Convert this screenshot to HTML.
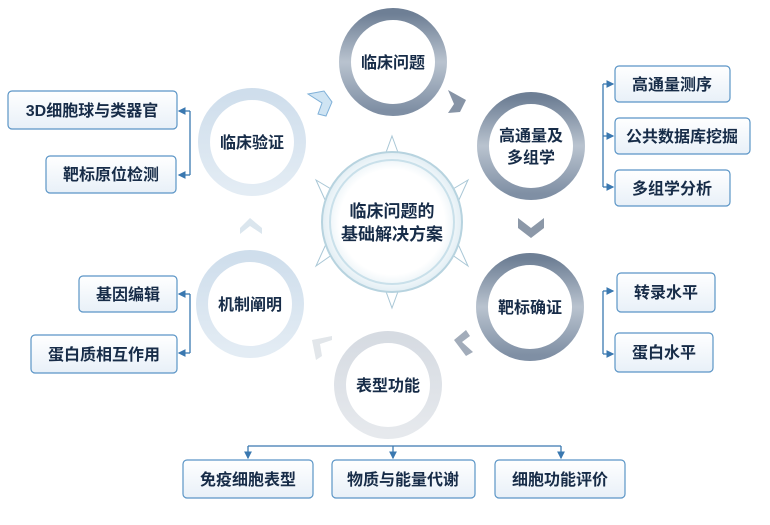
<!DOCTYPE html>
<html><head><meta charset="utf-8"><style>
html,body{margin:0;padding:0;background:#fff;}
svg text{font-family:"Liberation Sans","Noto Sans CJK SC",sans-serif;font-weight:bold;fill:#172c48;}
</style></head><body>
<svg width="770" height="520" viewBox="0 0 770 520" xmlns="http://www.w3.org/2000/svg">
<defs>
<linearGradient id="dk" x1="0" y1="0" x2="0" y2="1">
<stop offset="0" stop-color="#6e7f95"/><stop offset="0.5" stop-color="#b9c3cf"/><stop offset="1" stop-color="#7f8fa4"/></linearGradient>
<linearGradient id="lt" x1="0" y1="0" x2="0" y2="1">
<stop offset="0" stop-color="#cfdeec"/><stop offset="1" stop-color="#e3ecf4"/></linearGradient>
<linearGradient id="lg" x1="0" y1="0" x2="0" y2="1">
<stop offset="0" stop-color="#d6dbe2"/><stop offset="1" stop-color="#e6e9ed"/></linearGradient>
<linearGradient id="bx" x1="0" y1="0" x2="0" y2="1">
<stop offset="0" stop-color="#ffffff"/><stop offset="1" stop-color="#e8f0f8"/></linearGradient>
<radialGradient id="cg" cx="0.5" cy="0.5" r="0.5">
<stop offset="0.75" stop-color="#ffffff"/><stop offset="1" stop-color="#e2eef4"/></radialGradient>
<marker id="ar" markerWidth="6" markerHeight="6" refX="5" refY="3" orient="auto"><path d="M0,0L6,3L0,6z" fill="#3a78b0"/></marker>
</defs>

<g fill="#fff" stroke="#a9c7d6" stroke-width="1">
<polygon points="392,136 400,158 384,158"/>
<polygon points="392,308 400,286 384,286"/>
<polygon points="316,180 336,192 326,202"/>
<polygon points="468,180 448,192 458,202"/>
<polygon points="316,266 336,252 326,244"/>
<polygon points="468,266 448,252 458,244"/>
</g>
<circle cx="392" cy="222" r="70" fill="url(#cg)" stroke="#b7d3df" stroke-width="2"/>
<circle cx="392" cy="222" r="62" fill="none" stroke="#c9e0ea" stroke-width="2"/>
<text x="392" y="217" font-size="17" text-anchor="middle">临床问题的</text>
<text x="392" y="240" font-size="17" text-anchor="middle">基础解决方案</text>

<circle cx="393" cy="62" r="48" fill="#fff" stroke="url(#dk)" stroke-width="12"/>
<text x="393" y="68" font-size="16" text-anchor="middle">临床问题</text>
<circle cx="531" cy="146" r="48" fill="#fff" stroke="url(#dk)" stroke-width="12"/>
<text x="531" y="141" font-size="16" text-anchor="middle">高通量及</text>
<text x="531" y="163" font-size="16" text-anchor="middle">多组学</text>
<circle cx="530" cy="307" r="48" fill="#fff" stroke="url(#dk)" stroke-width="12"/>
<text x="530" y="313" font-size="16" text-anchor="middle">靶标确证</text>
<circle cx="388" cy="385" r="48" fill="#fff" stroke="url(#lg)" stroke-width="12"/>
<text x="388" y="391" font-size="16" text-anchor="middle">表型功能</text>
<circle cx="250" cy="304" r="48" fill="#fff" stroke="url(#lt)" stroke-width="12"/>
<text x="250" y="310" font-size="16" text-anchor="middle">机制阐明</text>
<circle cx="252" cy="142" r="48" fill="#fff" stroke="url(#lt)" stroke-width="12"/>
<text x="252" y="148" font-size="16" text-anchor="middle">临床验证</text>

<polygon points="308,94 324,91 332,102 326,116 318,114 322,103" fill="#cfe4f3" stroke="#7fb0d8" stroke-width="1"/>
<polygon points="448,90 466,100 460,112 448,113 454,104" fill="#8794a6"/>
<polygon points="518,218 531,228 544,218 544,228 531,238 518,228" fill="#8c98a8"/>
<polygon points="466,330 454,340 466,356 473,352 462,342 470,336" fill="#a2acba"/>
<polygon points="332,336 312,340 316,360 322,356 320,344 332,340" fill="#e2e6ea"/>
<polygon points="240,228 250,218 262,228 262,234 250,226 240,234" fill="#dbe6ee"/>

<g fill="none" stroke="#3a78b0" stroke-width="1.3">
<path d="M190,111 L190,175" /><path d="M190,111 L179,111" marker-end="url(#ar)"/><path d="M190,175 L179,175" marker-end="url(#ar)"/>
<path d="M190,294 L190,353"/><path d="M190,294 L179,294" marker-end="url(#ar)"/><path d="M190,353 L179,353" marker-end="url(#ar)"/>
<path d="M603,84 L603,187"/><path d="M603,84 L613,84" marker-end="url(#ar)"/><path d="M603,136 L613,136" marker-end="url(#ar)"/><path d="M603,187 L613,187" marker-end="url(#ar)"/>
<path d="M603,291 L603,354"/><path d="M603,291 L613,291" marker-end="url(#ar)"/><path d="M603,354 L613,354" marker-end="url(#ar)"/>
<path d="M248,446 L561,446"/><path d="M248,446 L248,458" marker-end="url(#ar)"/><path d="M393,446 L393,458" marker-end="url(#ar)"/><path d="M561,446 L561,458" marker-end="url(#ar)"/>
</g>

<g fill="url(#bx)" stroke="#5b95c6" stroke-width="1.2">
<rect x="8" y="91" width="169" height="38" rx="4"/>
<rect x="46" y="156" width="130" height="37" rx="4"/>
<rect x="79" y="276" width="98" height="36" rx="4"/>
<rect x="31" y="335" width="146" height="38" rx="4"/>
<rect x="615" y="66" width="115" height="36" rx="4"/>
<rect x="615" y="118" width="135" height="36" rx="4"/>
<rect x="615" y="170" width="115" height="36" rx="4"/>
<rect x="617" y="273" width="98" height="39" rx="4"/>
<rect x="615" y="333" width="98" height="39" rx="4"/>
<rect x="183" y="460" width="130" height="38" rx="4"/>
<rect x="332" y="460" width="143" height="38" rx="4"/>
<rect x="495" y="460" width="130" height="38" rx="4"/>
</g>
<g font-size="16" text-anchor="middle">
<text x="92" y="116">3D细胞球与类器官</text>
<text x="111" y="180">靶标原位检测</text>
<text x="128" y="300">基因编辑</text>
<text x="104" y="360">蛋白质相互作用</text>
<text x="672" y="90">高通量测序</text>
<text x="682" y="142">公共数据库挖掘</text>
<text x="672" y="194">多组学分析</text>
<text x="666" y="298">转录水平</text>
<text x="664" y="358">蛋白水平</text>
<text x="248" y="485">免疫细胞表型</text>
<text x="403" y="485">物质与能量代谢</text>
<text x="560" y="485">细胞功能评价</text>
</g>
</svg>
</body></html>
